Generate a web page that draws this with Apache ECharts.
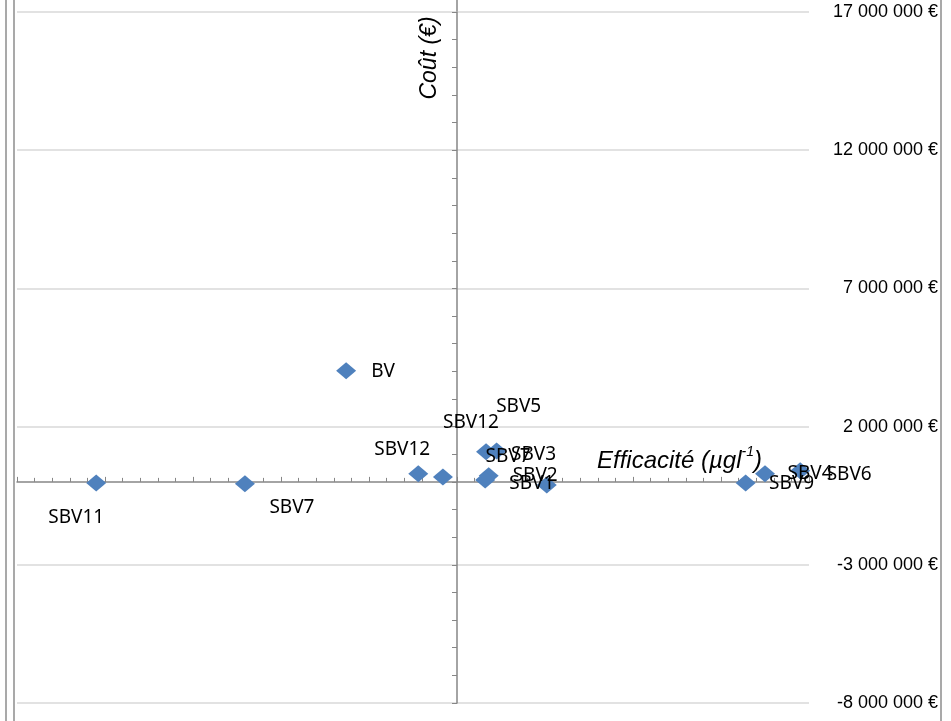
<!DOCTYPE html>
<html>
<head>
<meta charset="utf-8">
<script src="https://cdn.jsdelivr.net/npm/echarts@6/dist/echarts.min.js"></script>
<style>
  html, body { margin: 0; padding: 0; background: #fff; }
  #chart { width: 951px; height: 721px; }
</style>
</head>
<body>
<div id="chart"></div>
<script>
// noms des points (étiquettes)
const names = ['BV', 'SBV11', 'SBV7', 'SBV12', 'SBV12', 'SBV7', 'SBV3', 'SBV5', 'SBV2', 'SBV1', 'SBV9', 'SBV4', 'SBV6'];
// efficacité (µg/l)
const efficacite = [-1.26, -4.10, -2.41, -0.44, -0.16, 0.33, 0.45, 0.36, 0.32, 1.02, 3.28, 3.50, 3.90];
// coût (€)
const cout = [4020000, -40000, -70000, 290000, 180000, 1090000, 1120000, 220000, 70000, -110000, -40000, 290000, 400000];
// décalage des étiquettes (déplacées à la main dans l'original)
const labelShift = [[37, 1], [-20, 35], [47, 24], [-16, -24], [28, -54], [22, 5], [37, 4], [30, -69], [50, -4], [-15, -1], [46, 1], [45, 0], [49, 4]];

const axisGrey = '#868686';

function euro(v) {
  const s = String(Math.abs(v)).replace(/\B(?=(\d{3})+(?!\d))/g, ' ');
  return (v < 0 ? '-' : '') + s + ' €';
}

const points = names.map((n, i) => ({
  name: n,
  value: [efficacite[i], cout[i]],
  label: { offset: labelShift[i] }
}));

const chart = echarts.init(document.getElementById('chart'));
chart.setOption({
  animation: false,
  grid: { left: 17, right: 142, top: 12, bottom: 18 },
  xAxis: [
    {
      type: 'value', min: -5, max: 4, interval: 1,
      axisLine: { onZero: true, lineStyle: { color: axisGrey, width: 1.5 } },
      axisTick: { show: true, inside: true, length: 4, lineStyle: { color: axisGrey } },
      minorTick: { show: true, splitNumber: 5, length: 4, lineStyle: { color: axisGrey } },
      axisLabel: { show: false },
      splitLine: { show: false }
    },
    {
      type: 'value', min: -5, max: 4, interval: 1,
      axisLine: { show: false, onZero: true },
      axisTick: { show: true, inside: false, length: 5, lineStyle: { color: axisGrey } },
      axisLabel: { show: false },
      splitLine: { show: false }
    }
  ],
  yAxis: [
    {
      type: 'value', min: -8000000, max: 17000000, interval: 5000000, position: 'left',
      axisLine: { show: true, onZero: true, lineStyle: { color: axisGrey, width: 1.5 } },
      axisTick: { show: true, length: 5, lineStyle: { color: axisGrey } },
      minorTick: { show: true, splitNumber: 5, length: 5, lineStyle: { color: axisGrey } },
      axisLabel: { show: false },
      splitLine: { show: false }
    },
    {
      type: 'value', min: -8000000, max: 17000000, interval: 5000000, position: 'right',
      axisLine: { show: false, onZero: false },
      axisTick: { show: false },
      axisLabel: {
        formatter: euro, align: 'right', margin: 129,
        fontFamily: 'Liberation Sans, Arial, sans-serif', fontSize: 18, color: '#000'
      },
      splitLine: { show: true, lineStyle: { color: '#d9d9d9', width: 1.5 } }
    }
  ],
  series: [{
    type: 'scatter',
    data: points,
    symbol: 'diamond',
    symbolSize: [20, 17],
    itemStyle: { color: '#4F81BD', opacity: 1 },
    label: {
      show: true,
      position: 'inside',
      formatter: p => p.name,
      fontFamily: 'Noto Sans, sans-serif',
      fontSize: 19,
      color: '#000'
    }
  }],
  graphic: [
    { type: 'line', shape: { x1: 6, y1: 0, x2: 6, y2: 721 }, style: { stroke: '#8c8c8c', lineWidth: 1.5 } },
    { type: 'line', shape: { x1: 14, y1: 0, x2: 14, y2: 721 }, style: { stroke: '#8c8c8c', lineWidth: 1.5 } },
    { type: 'line', shape: { x1: 941, y1: 0, x2: 941, y2: 721 }, style: { stroke: '#8c8c8c', lineWidth: 1.5 } },
    {
      type: 'text', x: 430, y: 58, rotation: Math.PI / 2,
      style: {
        text: 'Coût (€)', fill: '#000', align: 'center', verticalAlign: 'middle',
        font: 'italic 23px Liberation Sans, Arial, sans-serif'
      }
    },
    {
      type: 'text', x: 597, y: 459,
      style: {
        text: '{a|Efficacité (µgl}{s|-1}{a|)}', fill: '#000', verticalAlign: 'middle',
        rich: {
          a: { fontStyle: 'italic', fontSize: 24, fontFamily: 'Liberation Sans, Arial, sans-serif', lineHeight: 28, verticalAlign: 'bottom' },
          s: { fontStyle: 'italic', fontSize: 14, fontFamily: 'Liberation Sans, Arial, sans-serif', lineHeight: 28, verticalAlign: 'top' }
        }
      }
    }
  ]
});

// prolonge l'axe vertical jusqu'au bord haut, comme dans l'original
const x0 = chart.convertToPixel({ xAxisIndex: 0 }, 0);
const yTop = chart.convertToPixel({ yAxisIndex: 0 }, 17000000);
chart.setOption({
  graphic: [{ id: 'yExt', type: 'line', shape: { x1: x0, y1: 0, x2: x0, y2: yTop }, style: { stroke: axisGrey, lineWidth: 1.5 } }]
});
</script>
</body>
</html>
